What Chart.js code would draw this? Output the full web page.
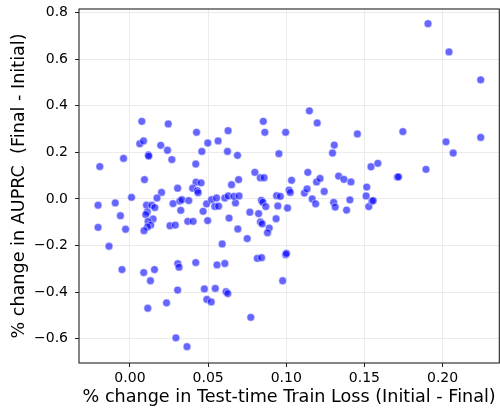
<!DOCTYPE html>
<html>
<head>
<meta charset="utf-8">
<script src="https://cdn.jsdelivr.net/npm/chart.js@4"></script>
<style>
	body { margin: 0; background: #fff; }
	canvas { display: block; }
</style>
</head>
<body>
<canvas id="canvas" width="500" height="408"></canvas>
<script>
// % change in test-time train loss (initial - final)
const lossChange = [
	0.1907, 0.2041, 0.2244, 0.2244, 0.2068, 0.2022, 0.1746, 0.1894, 0.1711, 0.1718,
	0.1455, 0.1148, 0.1198, 0.0853, 0.0863, 0.0996, 0.1307, 0.1296, 0.0953, 0.1542,
	0.1586, 0.0799, 0.0834, 0.0858, 0.1034, 0.1138, 0.1194, 0.1216, 0.1335, 0.1369,
	0.1414, 0.1515, 0.1511, 0.1243, 0.1018, 0.1026, 0.1116, 0.1133, 0.0938, 0.0962,
	0.1166, 0.1188, 0.0841, 0.0850, 0.0869, 0.0946, 0.1008, 0.1303, 0.1313, 0.1386,
	0.1407, 0.1528, 0.1548, 0.1556, 0.0767, 0.0823, 0.0835, 0.0846, 0.0935, 0.0891,
	0.0880, 0.0750, 0.0815, 0.0842, 0.0996, 0.1001, 0.0977, 0.0773,
	0.0076, 0.0245, -0.0193, -0.0041, 0.0063, 0.0087, 0.0197, 0.0118, 0.0120, 0.0240,
	0.0268, 0.0093, 0.0426, 0.0498, 0.0564, 0.0628, 0.0460, 0.0421, 0.0624, 0.0688,
	0.0695, 0.0650, 0.0305, 0.0202, 0.0423, 0.0455, 0.0401, 0.0431, 0.0436, 0.0010,
	0.0173, -0.0204, -0.0094, 0.0106, 0.0140, 0.0159, 0.0111, 0.0101, 0.0148, 0.0116,
	0.0133, 0.0112, 0.0090, 0.0276, 0.0319, 0.0332, 0.0376, 0.0325, 0.0490, 0.0522,
	0.0554, 0.0543, 0.0567, 0.0468, 0.0607, 0.0629, 0.0675, 0.0665, 0.0698, -0.0204,
	-0.0061, -0.0028, 0.0256, 0.0290, 0.0370, 0.0404, 0.0497, 0.0634, 0.0690, 0.0590,
	-0.0134, -0.0051, 0.0088, 0.0131, 0.0157, 0.0114, 0.0306, 0.0314, 0.0421, 0.0557,
	0.0607, 0.0305, 0.0476, 0.0546, 0.0492, 0.0520, 0.0615, 0.0626, 0.0234, 0.0294,
	0.0365,
];

// % change in AUPRC (final - initial)
const auprcChange = [
	0.752, 0.631, 0.511, 0.264, 0.197, 0.245, 0.289, 0.127, 0.094, 0.095,
	0.279, 0.378, 0.326, 0.333, 0.286, 0.286, 0.231, 0.197, 0.194, 0.138,
	0.153, 0.114, 0.091, 0.091, 0.080, 0.114, 0.073, 0.088, 0.098, 0.084,
	0.073, 0.051, 0.013, 0.032, 0.038, 0.028, 0.025, 0.043, 0.014, 0.011,
	0.000, -0.021, -0.006, -0.014, -0.033, -0.030, -0.039, -0.015, -0.035, -0.048,
	-0.004, -0.033, -0.010, -0.007, -0.057, -0.063, -0.099, -0.107, -0.085, -0.125,
	-0.145, -0.170, -0.255, -0.252, -0.239, -0.234, -0.351, -0.508,
	0.333, 0.322, 0.139, 0.174, 0.237, 0.249, 0.230, 0.189, 0.184, 0.209,
	0.169, 0.083, 0.286, 0.240, 0.249, 0.293, 0.204, 0.150, 0.204, 0.187,
	0.083, 0.061, 0.046, 0.028, 0.072, 0.069, 0.046, 0.036, 0.027, 0.007,
	0.004, -0.027, -0.017, -0.027, -0.027, -0.037, -0.056, -0.067, -0.086, -0.096,
	-0.112, -0.120, -0.136, -0.020, -0.009, -0.003, -0.007, -0.049, -0.021, -0.003,
	0.004, -0.032, -0.031, -0.053, 0.004, 0.013, -0.017, 0.011, 0.013, -0.122,
	-0.072, -0.130, -0.115, -0.112, -0.096, -0.096, -0.093, -0.082, -0.129, -0.193,
	-0.203, -0.303, -0.316, -0.351, -0.303, -0.469, -0.278, -0.293, -0.273, -0.283,
	-0.277, -0.391, -0.386, -0.384, -0.431, -0.442, -0.398, -0.406, -0.446, -0.596,
	-0.634,
];

const xTicks = [0, 0.05, 0.1, 0.15, 0.2];
const yTicks = [-0.6, -0.4, -0.2, 0, 0.2, 0.4, 0.6, 0.8];

const puntos = lossChange.map((x, i) => ({ x: x, y: auprcChange[i] }));

const fuente = "'DejaVu Sans', sans-serif";
const menos = (txt) => txt.replace("-", "\u2212");

// marco alrededor del area del grafico (spines)
const marco = {
	id: "marco",
	afterDatasetsDraw(chart) {
		const { ctx, chartArea: a } = chart;
		ctx.save();
		ctx.strokeStyle = "#222";
		ctx.lineWidth = 1.1;
		ctx.strokeRect(a.left, a.top, a.right - a.left, a.bottom - a.top);
		ctx.restore();
	},
};

const grafico = new Chart(document.getElementById("canvas"), {
	type: "scatter",
	data: {
		datasets: [
			{
				data: puntos,
				backgroundColor: "rgba(0, 0, 255, 0.6)",
				borderColor: "rgba(255, 255, 255, 0.6)",
				borderWidth: 0.8,
				pointRadius: 3.9,
				pointHoverRadius: 3.9,
			},
		],
	},
	options: {
		responsive: false,
		animation: false,
		layout: { autoPadding: false, padding: { top: 9, right: 0.7, bottom: 0, left: 0 } },
		plugins: {
			legend: { display: false },
			tooltip: { enabled: false },
		},
		scales: {
			x: {
				type: "linear",
				min: -0.0326,
				max: 0.2363,
				afterBuildTicks: (s) => {
					s.ticks = xTicks.map((v) => ({ value: v }));
				},
				afterFit: (s) => {
					s.height = 45;
					s.paddingLeft = 0;
					s.paddingRight = 0;
				},
				border: { display: false },
				grid: { color: "#ebebeb", tickColor: "#222", tickLength: 4 },
				ticks: {
					padding: 3,
					color: "#000",
					font: { family: fuente, size: 14 },
					callback: (v) => menos(Number(v).toFixed(2)),
				},
				title: {
					display: true,
					text: "% change in Test-time Train Loss (Initial - Final)",
					color: "#000",
					font: { family: fuente, size: 17.6 },
					padding: { top: 0, bottom: 0 },
				},
			},
			y: {
				type: "linear",
				min: -0.704,
				max: 0.815,
				afterBuildTicks: (s) => {
					s.ticks = yTicks.map((v) => ({ value: v }));
				},
				afterFit: (s) => {
					s.width = 79;
					s.paddingTop = 0;
					s.paddingBottom = 0;
				},
				border: { display: false },
				grid: { color: "#ebebeb", tickColor: "#222", tickLength: 4 },
				ticks: {
					padding: 7,
					color: "#000",
					font: { family: fuente, size: 14 },
					callback: (v) => menos(Number(v).toFixed(1)),
				},
				title: {
					display: true,
					text: "% change in AUPRC  (Final - Initial)",
					color: "#000",
					font: { family: fuente, size: 17.6 },
					padding: { top: 8.5, bottom: 0 },
				},
			},
		},
	},
	plugins: [marco],
});
</script>
</body>
</html>
